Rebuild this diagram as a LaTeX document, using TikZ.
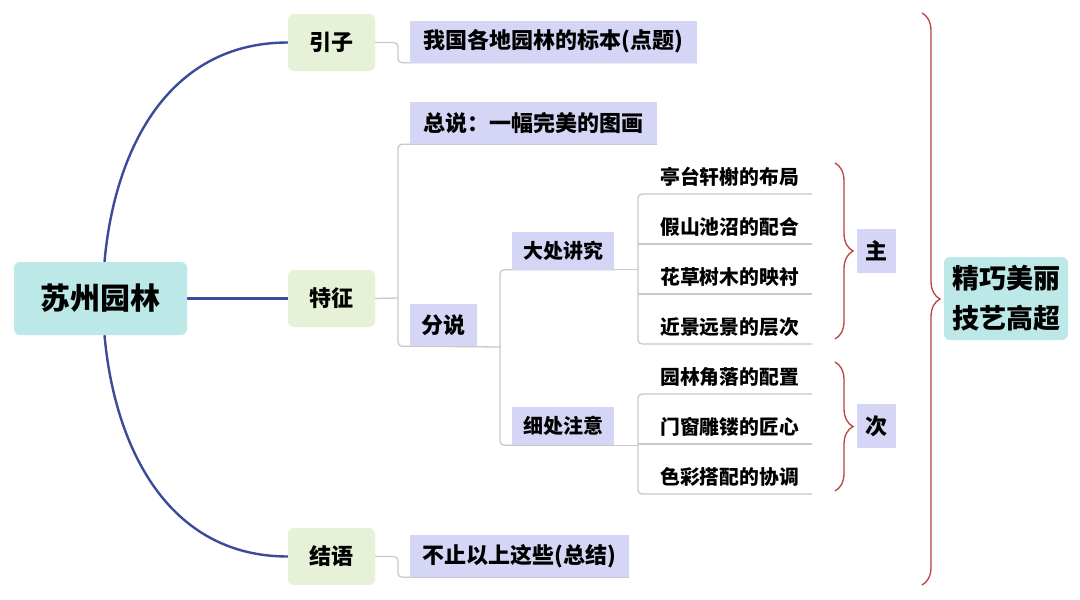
\documentclass[tikz,border=0pt]{standalone}
\usepackage{fontspec}
\setmainfont{Noto Sans CJK SC}
\usetikzlibrary{decorations.pathreplacing}
\definecolor{cyanfill}{HTML}{BCE9E8}
\definecolor{greenfill}{HTML}{E6F1D7}
\definecolor{lavfill}{HTML}{D5D5F6}
\definecolor{connGray}{HTML}{C9C9C9}
\definecolor{mainBlue}{HTML}{3B4A99}
\definecolor{braceRed}{HTML}{B5453F}
\pgfdeclarelayer{bg}
\pgfsetlayers{bg,main}
\newcommand\leaftext[1]{\hspace*{22pt}\makebox[152pt][l]{#1}}
\begin{document}
\begin{tikzpicture}[x=1pt,y=-1pt,
  txt/.style={inner sep=0pt, text=black},
  rootbox/.style={txt, fill=cyanfill, rounded corners=6pt, minimum width=173pt, minimum height=73pt, font=\bfseries\fontsize{30}{34}\selectfont},
  topicbox/.style={txt, fill=greenfill, rounded corners=6pt, minimum width=87pt, minimum height=57pt, font=\bfseries\fontsize{22}{26}\selectfont},
  subbox/.style={txt, fill=lavfill, minimum height=42pt, font=\bfseries\fontsize{22}{26}\selectfont},
  smallbox/.style={txt, fill=lavfill, minimum height=38pt, minimum width=102pt, font=\bfseries\fontsize{20}{24}\selectfont},
  leafbox/.style={txt, minimum height=34pt, font=\bfseries\fontsize{19.8}{23}\selectfont, anchor=south west},
  markbox/.style={txt, fill=lavfill, minimum width=39pt, minimum height=44pt, font=\bfseries\fontsize{22}{26}\selectfont},
  endbox/.style={txt, fill=cyanfill, rounded corners=6pt, minimum width=124pt, minimum height=83pt, align=center, font=\bfseries\fontsize{27}{40}\selectfont},
  conn/.style={draw=connGray, line width=1.3pt, rounded corners=4pt},
  bluecurve/.style={draw=mainBlue, line width=2.4pt},
  redbrace/.style={draw=braceRed, line width=1.3pt, decorate, decoration={brace, amplitude=18pt}}
]
\useasboundingbox (0,0) rectangle (1080,600);

% main nodes
\node[rootbox] (root) at (100.5,298.5) {苏州园林};
\node[topicbox] (yinzi) at (331.5,42.5) {引子};
\node[topicbox] (tezheng) at (331.5,298.5) {特征};
\node[topicbox] (jieyu) at (331.5,556.5) {结语};

\node[subbox, minimum width=287pt] (biaoben) at (553.5,41.5) {我国各地园林的标本(点题)};
\node[subbox, minimum width=247pt] (zongshuo) at (533.5,123) {总说：一幅完美的图画};
\node[subbox, minimum width=67pt] (fenshuo) at (443.5,325) {分说};
\node[subbox, minimum width=219pt] (zongjie) at (519.5,556) {不止以上这些(总结)};

\node[smallbox] (dachu) at (563,250.5) {大处讲究};
\node[smallbox] (xichu) at (563,426) {细处注意};

\node[leafbox] (l1) at (638,194) {\leaftext{亭台轩榭的布局}};
\node[leafbox] (l2) at (638,244) {\leaftext{假山池沼的配合}};
\node[leafbox] (l3) at (638,294) {\leaftext{花草树木的映衬}};
\node[leafbox] (l4) at (638,344) {\leaftext{近景远景的层次}};
\node[leafbox] (l5) at (638,394) {\leaftext{园林角落的配置}};
\node[leafbox] (l6) at (638,444) {\leaftext{门窗雕镂的匠心}};
\node[leafbox] (l7) at (638,494) {\leaftext{色彩搭配的协调}};

\node[markbox] (zhu) at (876.5,251) {主};
\node[markbox] (ci) at (876.5,426) {次};

\node[endbox] (final) at (1006,298.5) {精巧美丽\\技艺高超};

\coordinate (j1) at (398,298);
\coordinate (j2) at (500,347);

\begin{pgfonlayer}{bg}
\fill[white] (0,0) rectangle (1080,600);
% blue main connectors
\draw[bluecurve] ([xshift=4pt]root.north) .. controls +(10,-112) and +(-120,0) .. (yinzi.west);
\draw[bluecurve] ([xshift=4pt]root.south) .. controls +(10,112) and +(-120,0) .. (jieyu.west);
\draw[bluecurve] (root.east) -- (tezheng.west);

% gray connectors
\draw[conn] (yinzi.east) -- (yinzi.east -| j1) -- (biaoben.south west -| j1) -- (biaoben.south west) -- (biaoben.south east);
\draw[conn] (jieyu.east) -- (jieyu.east -| j1) -- (zongjie.south west -| j1) -- (zongjie.south west) -- (zongjie.south east);
\draw[conn] (tezheng.east) -- (j1);
\draw[conn] (zongshuo.south east) -- (zongshuo.south west) -- (zongshuo.south west -| j1) -- (fenshuo.south west -| j1) -- (fenshuo.south west) -- (j2);
\draw[conn] (dachu.south east) -- (dachu.south west) -- (dachu.south west -| j2) -- (xichu.south west -| j2) -- (xichu.south west) -- (xichu.south east);
\draw[conn] (dachu.south east) -- (dachu.south -| l1.south west);
\draw[conn] (xichu.south east) -- (xichu.south -| l5.south west);
\draw[conn] (l1.south east) -- (l1.south west) -- (l4.south west) -- (l4.south east);
\draw[conn] (l2.south west) -- (l2.south east);
\draw[conn] (l3.south west) -- (l3.south east);
\draw[conn] (l5.south east) -- (l5.south west) -- (l7.south west) -- (l7.south east);
\draw[conn] (l6.south west) -- (l6.south east);
\end{pgfonlayer}

% braces
\coordinate (b1t) at (835,163);
\coordinate (b1b) at (835,339);
\coordinate (b2t) at (835,362);
\coordinate (b2b) at (835,491);
\coordinate (b3t) at (922,13);
\coordinate (b3b) at (922,585);
\draw[redbrace] (b1t) -- (b1b);
\draw[redbrace] (b2t) -- (b2b);
\draw[redbrace] (b3t) -- (b3b);
\end{tikzpicture}
\end{document}
